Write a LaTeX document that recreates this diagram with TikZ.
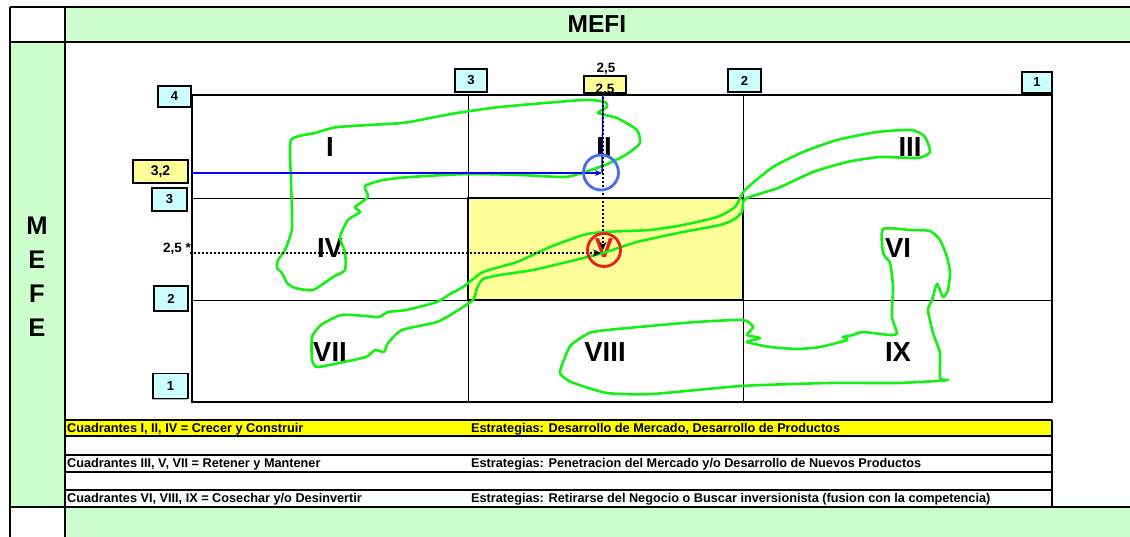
\documentclass[tikz,border=0pt]{standalone}
\usepackage{fontspec}
\setmainfont{Liberation Sans}
\usetikzlibrary{arrows.meta,shadows}
\definecolor{lgreen}{HTML}{CCFFCC}
\definecolor{lcyan}{HTML}{CCFFFF}
\definecolor{lyellow}{HTML}{FFFF99}
\definecolor{hyellow}{HTML}{FFFF00}
\definecolor{hgreen}{RGB}{20,240,20}
\definecolor{cblue}{RGB}{70,110,230}
\definecolor{cred}{RGB}{235,30,30}
\begin{document}
\begin{tikzpicture}[x=1pt,y=-1pt,
  frame/.style={line width=1.6pt},
  numbox/.style={draw, line width=1.3pt, fill=lcyan, inner sep=0pt,
    font=\fontsize{13}{14}\selectfont\bfseries,
    general shadow={fill=gray!60, shadow xshift=-1.3pt, shadow yshift=-1.3pt}},
  valbox/.style={numbox, fill=lyellow},
  quad/.style={font=\fontsize{27.5}{30}\selectfont\bfseries, inner sep=0pt},
  title/.style={font=\fontsize{24.5}{27}\selectfont\bfseries, inner sep=0pt},
  rowtext/.style={anchor=base west, inner sep=0pt, font=\fontsize{12.7}{14}\selectfont\bfseries},
  small/.style={inner sep=0pt, font=\fontsize{13.5}{15}\selectfont\bfseries},
  curve/.style={draw=hgreen, line width=2.6pt, line join=round, line cap=round},
  dots/.style={line width=2.6pt, dash pattern=on 2.4pt off 1.6pt},
]
\useasboundingbox (0,0) rectangle (1130,537);
\fill[white] (0,0) rectangle (1130,537);
% green bands
\fill[lgreen] (65,7) rectangle (1130,42);
\fill[lgreen] (10,42) rectangle (65,507);
\fill[lgreen] (65,507) rectangle (1130,537);
% centre cell
\fill[lyellow] (468,198) rectangle (743,300);
% grid
\draw[line width=0.8pt] (468,95) -- (468,402) (743,95) -- (743,402)
  (192,198) -- (1052,198) (192,300) -- (1052,300);
\draw[line width=1.8pt] (468,198) rectangle (743,300);
\draw[line width=1.8pt] (192,95) rectangle (1052,402);
% table rows
\fill[hyellow] (65,420) rectangle (1052,436);
\draw[frame] (65,420) -- (1052,420) (65,436) -- (1052,436) (65,455) -- (1052,455)
  (65,472) -- (1052,472) (65,490) -- (1052,490) (1052,420) -- (1052,507);
\node[rowtext] (r1a) at (67,432.5) {Cuadrantes I, II, IV = Crecer y Construir};
\node[rowtext] (r1b) at (471,432.5) {Estrategias: Desarrollo de Mercado, Desarrollo de Productos};
\node[rowtext] (r2a) at (67,467.5) {Cuadrantes III, V, VII = Retener y Mantener};
\node[rowtext] (r2b) at (471,467.5) {Estrategias: Penetracion del Mercado y/o Desarrollo de Nuevos Productos};
\node[rowtext] (r3a) at (67,502.5) {Cuadrantes VI, VIII, IX = Cosechar y/o Desinvertir};
\node[rowtext] (r3b) at (471,502.5) {Estrategias: Retirarse del Negocio o Buscar inversionista (fusion con la competencia)};
% frame
\draw[frame] (10,7) -- (1130,7) (10,42) -- (1130,42) (10,507) -- (1130,507)
  (10,7) -- (10,537) (65,7) -- (65,537);
\node[title] (mefi) at (597,24.5) {MEFI};
\node[title, font=\fontsize{25.5}{28}\selectfont\bfseries] (m1) at (37,226) {M};
\node[title, font=\fontsize{25.5}{28}\selectfont\bfseries] (m2) at (37,260) {E};
\node[title, font=\fontsize{25.5}{28}\selectfont\bfseries] (m3) at (37,294) {F};
\node[title, font=\fontsize{25.5}{28}\selectfont\bfseries] (m4) at (37,328) {E};
% number boxes
\node[numbox, minimum width=33pt, minimum height=21pt] (b4) at (174.5,96.5) {4};
\node[numbox, minimum width=32pt, minimum height=23pt] (t3) at (471,80.5) {3};
\node[numbox, minimum width=33pt, minimum height=23pt] (t2) at (744.5,80.5) {2};
\node[numbox, minimum width=30pt, minimum height=21pt] (t1) at (1037,82.5) {1};
\node[valbox, minimum width=55pt, minimum height=23pt, font=\fontsize{14}{15}\selectfont\bfseries] (v32) at (160.5,171.5) {3,2};
\node[numbox, minimum width=35pt, minimum height=23pt] (l3) at (169.5,199.5) {3};
\node[numbox, minimum width=34pt, minimum height=25pt] (l2) at (171,298.5) {2};
\node[numbox, minimum width=35pt, minimum height=25pt] (l1) at (170.5,386) {1};
\node[valbox, minimum width=42pt, minimum height=17pt] (v25) at (605,84.5) {};
\begin{scope}
  \clip (584,76) rectangle (626,93);
  \node[small] (v25t) at (605,90) {2,5};
\end{scope}
\node[small] (top25) at (606,69) {2,5};
\node[small, anchor=east] (left25) at (191,249) {2,5 *};
% quadrant labels
\node[quad] (q1) at (330,147) {I};
\node[quad] (q2) at (604,147) {II};
\node[quad] (q3) at (910,147) {III};
\node[quad] (q4) at (330,248) {IV};
\node[quad, text=cred] (q5) at (604,248) {V};
\node[quad] (q6) at (898,248) {VI};
\node[quad] (q7) at (330,352) {VII};
\node[quad] (q8) at (605,352) {VIII};
\node[quad] (q9) at (898,352) {IX};
% green outlines
\draw[curve] plot[smooth cycle, tension=0.35] coordinates {
 (291,140) (315,133) (338,127) (402,123) (430,118) (457,113) (500,107) (583,100)
 (605,102) (607,107) (598,113) (617,118) (637,130) (640,143) (630,152) (620,158)
 (605,165) (585,172) (565,177) (520,175) (468,174) (410,177) (383,180) (365,186)
 (368,197) (355,207) (360,212) (348,220) (340,237) (345,252) (345,270) (333,277)
 (313,290) (295,288) (287,283) (282,273) (277,268) (278,260) (285,250) (292,228)
 (291,180)};
\draw[curve] plot[smooth cycle, tension=0.35] coordinates {
 (312,337) (321,325) (341,315) (365,316) (379,317) (388,312) (406,310) (437,302)
 (450,294) (463,287) (483,272) (517,262) (550,247) (583,235) (603,232) (650,230)
 (683,225) (717,217) (735,207) (745,190) (773,167) (803,152) (837,140) (877,132)
 (912,130) (925,137) (930,152) (918,158) (880,157) (847,162) (813,172) (778,188)
 (745,199) (742,212) (733,220) (720,225) (683,232) (637,242) (603,253) (567,262)
 (533,270) (500,275) (483,279) (477,288) (473,300) (455,312) (437,322) (402,330)
 (388,343) (384,352) (375,350) (366,357) (339,363) (317,367) (312,360)};
\draw[curve] plot[smooth cycle, tension=0.35] coordinates {
 (696,322) (650,326) (607,330) (589,333) (571,345) (565,357) (560,373) (571,382)
 (607,393) (652,394) (741,386) (830,383) (897,383) (937,381) (948,380) (940,378)
 (940,353) (933,333) (928,310) (932,300) (937,284) (943,297) (948,290) (950,273)
 (947,257) (940,240) (930,231) (910,230) (883,229) (883,253) (890,263) (893,287)
 (892,317) (897,333) (890,335) (863,332) (853,335) (843,337) (847,340) (820,347)
 (797,349) (770,347) (747,342) (760,338) (747,335) (753,327) (743,320)};
% position markers
\coordinate (bstart) at (192,173);
\coordinate (pII) at (602,173);
\coordinate (vtop) at (603,93);
\coordinate (pV) at (603,250);
\coordinate (hstart) at (190,253);
\coordinate (pVh) at (601,253);
\draw[blue, line width=1.5pt] (vtop) -- (pII);
\draw[blue, line width=2.8pt, -{Stealth[length=7pt,width=6pt]}] (bstart) -- (pII);
\draw[dots, -{Stealth[length=8pt,width=7pt]}] (vtop) -- (pV);
\draw[dots, -{Stealth[length=8pt,width=7pt]}] (hstart) -- (pVh);
\node[draw=cblue, circle, line width=2.8pt, minimum size=35pt, inner sep=0pt] (bc) at (601,172.5) {};
\node[draw=cred, circle, line width=2.8pt, minimum size=33pt, inner sep=0pt] (rc) at (604,250) {};
\end{tikzpicture}
\end{document}
